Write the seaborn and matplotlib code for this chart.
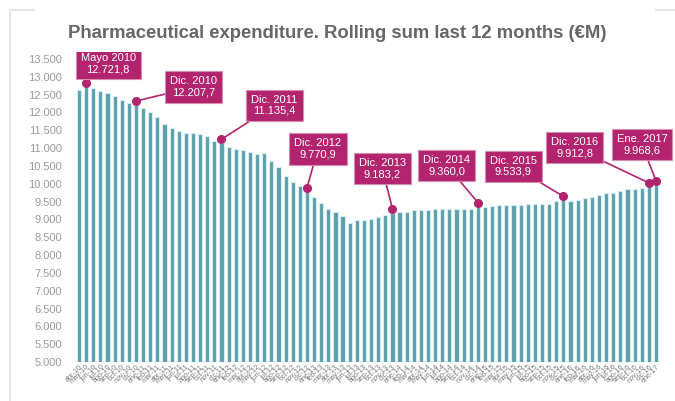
import matplotlib
matplotlib.use("Agg")
import matplotlib.pyplot as plt
import matplotlib.transforms as mtransforms
from matplotlib.patches import Rectangle
import seaborn as sns
import pandas as pd

# monthly rolling sum, abr-2010 .. ene-2017
months = []
for y in range(2010, 2018):
    for m in ["ene", "feb", "mar", "abr", "may", "jun", "jul", "ago", "sep", "oct", "nov", "dic"]:
        months.append(f"{m}-{str(y)[2:]}")
months = months[3:months.index("ene-17") + 1]

values = [
    12631, 12721.8, 12678, 12611, 12538, 12471, 12350, 12275, 12207.7,
    12117, 12022, 11865, 11677, 11557, 11490, 11434, 11434, 11397, 11350, 11210, 11135.4,
    11024, 10968, 10948, 10892, 10836, 10856, 10649, 10463, 10228, 10042, 9939, 9770.9,
    9622, 9471, 9286, 9219, 9098, 8893, 8975, 8980, 9025, 9065, 9120, 9183.2,
    9205, 9205, 9260, 9255, 9255, 9280, 9290, 9290, 9300, 9305, 9300, 9360.0,
    9360, 9365, 9405, 9400, 9400, 9415, 9420, 9430, 9445, 9445, 9505, 9533.9,
    9520, 9550, 9595, 9620, 9687, 9733, 9728, 9808, 9845, 9854, 9892, 9912.8,
    9968.6,
]

label_months = ["may-10", "dic-10", "dic-11", "dic-12", "dic-13", "dic-14", "dic-15", "dic-16", "ene-17"]
label_names = ["Mayo 2010", "Dic. 2010", "Dic. 2011", "Dic. 2012", "Dic. 2013",
               "Dic. 2014", "Dic. 2015", "Dic. 2016", "Ene. 2017"]
label_values = ["12.721,8", "12.207,7", "11.135,4", "9.770,9", "9.183,2",
                "9.360,0", "9.533,9", "9.912,8", "9.968,6"]
# where each box sits relative to its dot (pixels)
label_offsets = [(22, 19), (58, 14), (53, 34), (11, 39), (-10, 40),
                 (-31, 37), (-50, 30), (-74, 35), (-14, 36)]

df = pd.DataFrame({"month": months, "value": values})

teal = "#5f9eab"
magenta = "#b3246e"
grey = "#9a9a9a"

sns.set_style("white")
plt.rcParams["font.family"] = ["Liberation Sans", "DejaVu Sans"]

fig = plt.figure(figsize=(6.75, 4.01), dpi=100)
ax = fig.add_axes([74.7 / 675, 39 / 401, 585.6 / 675, 303 / 401])

sns.barplot(data=df, x="month", y="value", color=teal, saturation=1,
            width=0.58, edgecolor="#d3eff4", linewidth=0.8, ax=ax)

ax.set_ylim(5000, 13500)
ax.set_xlim(-0.6, len(months) - 0.4)
ax.set_yticks(range(5000, 13501, 500))
ax.set_yticklabels([f"{v:,}".replace(",", ".") for v in range(5000, 13501, 500)])
ax.tick_params(axis="y", length=0, pad=9, labelsize=8, labelcolor=grey)
ax.tick_params(axis="x", length=0, pad=1, labelsize=5.2, labelcolor="#7a7a7a")
plt.setp(ax.get_xticklabels(), rotation=45, ha="right", rotation_mode="anchor")
ax.set_xlabel("")
ax.set_ylabel("")
for s in ax.spines.values():
    s.set_visible(False)
ax.axhline(5000, color="#f0d8e0", lw=1.2, zorder=0.5)

dot_tr = mtransforms.offset_copy(ax.transData, fig=fig, y=4, units="dots")
for m, name, val, (dx, dy) in zip(label_months, label_names, label_values, label_offsets):
    i = months.index(m)
    v = values[i]
    ax.plot(i, v, "o", color=magenta, ms=5.5, transform=dot_tr, zorder=5, clip_on=False)
    ax.annotate(f"{name}\n{val}", xy=(i, v), xycoords=dot_tr,
                xytext=(dx, dy), textcoords="offset pixels",
                ha="center", va="center", color="white", fontsize=8,
                linespacing=1.15, annotation_clip=False, zorder=6,
                bbox=dict(boxstyle="square,pad=0.45", fc=magenta, ec="#d98ab0", lw=0.8),
                arrowprops=dict(arrowstyle="-", color=magenta, lw=1.2, shrinkA=0, shrinkB=0))

# light frame around the panel, top edge broken by the title
fig.patches.append(Rectangle((10 / 675, -0.05), 1.1, (391 / 401) + 0.05,
                             transform=fig.transFigure, fill=False,
                             ec="#e3e3e3", lw=1.2, zorder=0))
fig.patches.append(Rectangle((35 / 675, (401 - 52) / 401), 620 / 675, 52 / 401,
                             transform=fig.transFigure, fc="white", ec="none", zorder=3))
fig.text(0.5, (401 - 33) / 401, "Pharmaceutical expenditure. Rolling sum last 12 months (\u20acM)",
         ha="center", va="center", fontsize=13.3, fontweight="bold", color="#666666", zorder=4)

fig.savefig("out.png", dpi=100)
